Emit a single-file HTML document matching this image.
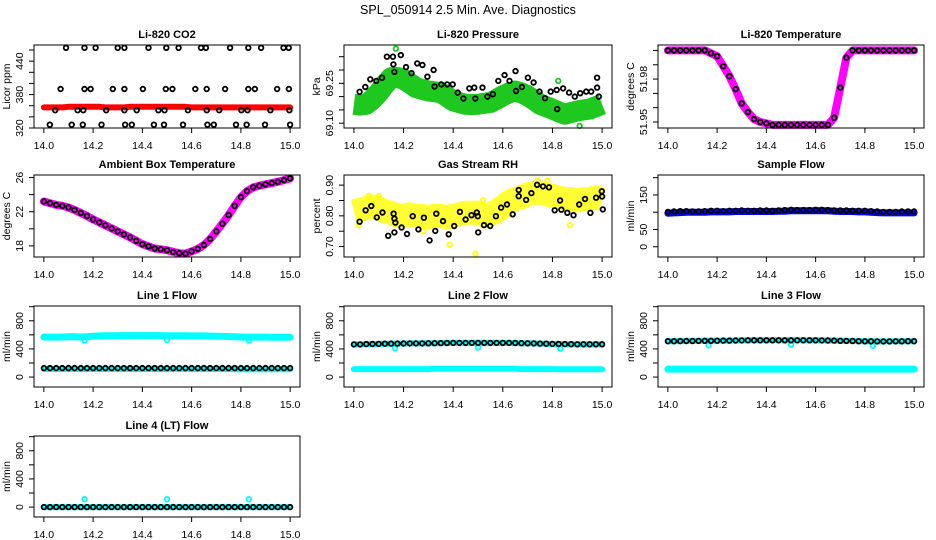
<!DOCTYPE html>
<html><head><meta charset="utf-8">
<style>
html,body{margin:0;padding:0;background:#fff;}
svg{display:block;font-family:"Liberation Sans",Arial,sans-serif;}
</style></head>
<body>
<svg id="chart" width="936" height="540" viewBox="0 0 936 540" xmlns="http://www.w3.org/2000/svg">
<rect width="936" height="540" fill="#fff"/>
<text x="468" y="14" text-anchor="middle" font-size="12.5">SPL_050914  2.5 Min. Ave. Diagnostics</text>
</svg>
<script>
// shared x grid (hours)
const xs = [14.000,14.025,14.050,14.075,14.100,14.125,14.150,14.175,14.200,14.225,14.250,14.275,14.300,14.325,14.350,14.375,14.400,14.425,14.450,14.475,14.500,14.525,14.550,14.575,14.600,14.625,14.650,14.675,14.700,14.725,14.750,14.775,14.800,14.825,14.850,14.875,14.900,14.925,14.950,14.975,15.000];
const xTicks = [14.0,14.2,14.4,14.6,14.8,15.0];
const xTickLabels = ["14.0","14.2","14.4","14.6","14.8","15.0"];

// CO2
const co2Red = [357,357,357,357,358,358,358,358,358,358,357,357,357,357,358,358,358,358,358,358,358,358,358,358,357,357,357,357,357,357,357,357,357,357,357,357,357,357,357,357,357];
const co2BlackX = [14.09,14.165,14.21,14.30,14.327,14.425,14.497,14.547,14.638,14.658,14.756,14.83,14.882,14.973,14.994,
 14.068,14.165,14.19,14.28,14.327,14.402,14.495,14.522,14.615,14.661,14.736,14.83,14.857,14.947,14.995,
 14.046,14.137,14.16,14.253,14.327,14.377,14.465,14.49,14.585,14.661,14.712,14.802,14.827,14.92,14.997,
 14.024,14.113,14.158,14.234,14.33,14.357,14.447,14.488,14.565,14.664,14.69,14.78,14.823,14.898,15.0];
const co2BlackY = [464,464,464,464,464,464,464,464,464,464,464,464,464,464,464,
 390,390,390,390,390,390,390,390,390,390,390,390,390,390,390,
 352,352,352,352,352,352,352,352,352,352,352,352,352,352,352,
 326,326,326,326,326,326,326,326,326,326,326,326,326,326,326];

// Pressure
const presGreen = [69.171,69.168,69.171,69.190,69.215,69.245,69.271,69.272,69.265,69.250,69.234,69.227,69.221,69.218,69.215,69.200,69.184,69.177,69.171,69.170,69.171,69.175,69.178,69.190,69.203,69.214,69.221,69.214,69.203,69.188,69.171,69.162,69.153,69.143,69.134,69.140,69.146,69.150,69.153,69.162,69.171];
const presBlackX = [14.023,14.046,14.066,14.090,14.113,14.133,14.157,14.159,14.163,14.189,14.210,14.232,14.255,14.276,14.296,14.321,14.325,14.352,14.376,14.398,14.418,14.441,14.465,14.485,14.489,14.518,14.538,14.560,14.582,14.607,14.627,14.651,14.653,14.677,14.701,14.724,14.748,14.770,14.793,14.817,14.819,14.843,14.867,14.890,14.912,14.936,14.956,14.980,14.980,14.987];
const presBlackY = [69.218,69.236,69.265,69.259,69.271,69.350,69.350,69.321,69.293,69.356,69.311,69.288,69.325,69.319,69.275,69.300,69.238,69.246,69.246,69.246,69.215,69.193,69.231,69.234,69.193,69.234,69.200,69.209,69.259,69.281,69.259,69.296,69.221,69.236,69.271,69.253,69.219,69.194,69.219,69.225,69.153,69.231,69.215,69.200,69.213,69.219,69.219,69.271,69.234,69.200];
const presOutX = [14.169,14.823,14.910];
const presOutY = [69.380,69.259,69.090];

// Li-820 temperature
const tempMag = [52.000,52.000,52.000,52.000,52.000,52.000,52.000,51.998,51.996,51.989,51.982,51.973,51.963,51.957,51.952,51.950,51.949,51.948,51.948,51.948,51.948,51.948,51.948,51.948,51.948,51.948,51.948,51.953,51.974,51.995,52.000,52.000,52.000,52.000,52.000,52.000,52.000,52.000,52.000,52.000,52.000];

// Ambient box temperature
const ambMag = [23.2,23.0,22.8,22.7,22.5,22.2,21.85,21.5,21.1,20.75,20.4,20.05,19.7,19.35,19.0,18.6,18.2,17.95,17.7,17.6,17.5,17.3,17.15,17.1,17.35,17.65,18.1,18.8,19.7,20.6,21.6,22.7,23.7,24.4,24.85,25.05,25.2,25.35,25.5,25.7,25.9];

// Gas stream RH
const rhYellow = [0.815,0.82,0.825,0.83,0.825,0.815,0.81,0.80,0.80,0.805,0.80,0.80,0.795,0.80,0.80,0.795,0.80,0.805,0.81,0.81,0.81,0.80,0.805,0.815,0.83,0.845,0.855,0.86,0.87,0.875,0.875,0.87,0.865,0.86,0.855,0.855,0.85,0.855,0.855,0.86,0.855];
const rhBlackX = [14.023,14.047,14.070,14.092,14.115,14.138,14.160,14.163,14.167,14.163,14.192,14.214,14.237,14.260,14.282,14.305,14.328,14.332,14.359,14.382,14.404,14.427,14.450,14.474,14.495,14.499,14.501,14.524,14.549,14.572,14.593,14.617,14.640,14.664,14.664,14.694,14.715,14.738,14.762,14.786,14.809,14.831,14.836,14.860,14.885,14.908,14.931,14.953,14.976,14.999,15.000,15.003];
const rhBlackY = [0.781,0.818,0.832,0.795,0.811,0.735,0.807,0.791,0.778,0.746,0.762,0.741,0.799,0.756,0.794,0.720,0.751,0.807,0.783,0.740,0.767,0.813,0.788,0.802,0.811,0.799,0.746,0.770,0.767,0.799,0.827,0.837,0.805,0.884,0.864,0.852,0.874,0.901,0.896,0.893,0.818,0.850,0.820,0.810,0.802,0.837,0.855,0.810,0.859,0.880,0.863,0.821];
const rhOutX = [14.49,14.386,14.06,14.10,14.74,14.78,14.02,14.28,14.52,14.87];
const rhOutY = [0.677,0.706,0.865,0.865,0.915,0.915,0.77,0.75,0.85,0.77];

// Sample flow
const sampleBlue = [97,98,99,100,100,100,100,101,101,101,101,102,102,102,102,102,102,102,103,103,104,104,104,104,104,104,104,103,102,102,102,101,101,100,99,98,98,98,98,98,98];
const sampleBlack = [101,102,103,103,102,102,103,104,104,103,104,104,105,104,104,105,105,104,105,106,107,106,106,106,107,107,106,105,105,105,104,104,104,103,102,101,101,101,102,102,102];

// Line flows
const line1Upper = [570,568,568,570,572,572,570,572,580,585,588,588,590,590,590,590,590,590,590,590,588,588,588,586,585,585,585,582,580,578,575,572,570,568,568,568,568,566,566,566,568];
const line1Lower = [115,115,115,115,115,115,115,115,115,115,115,115,115,115,115,115,115,115,115,115,115,115,115,115,115,115,115,115,115,115,115,110,110,110,110,110,110,110,110,110,110];
const line1Black = [127,127,127,127,127,127,127,127,127,127,127,127,127,127,127,127,127,127,127,127,127,127,127,127,127,127,127,127,127,127,127,127,127,127,127,127,127,127,127,127,127];
const line2Black = [465,465,468,470,472,474,476,476,477,478,478,479,480,482,483,484,485,485,485,485,486,486,486,486,486,485,484,482,480,478,476,474,472,470,468,467,466,466,466,466,466];
const line2Lower = [113,113,113,113,113,113,113,113,113,113,113,113,113,118,118,118,118,118,118,118,118,118,118,118,118,118,118,113,113,113,113,113,113,110,110,110,110,110,110,110,110];
const line3Black = [510,510,511,512,513,514,515,516,517,518,519,520,521,522,522,523,523,523,523,523,523,523,523,523,522,521,520,518,516,514,512,510,509,508,507,507,507,508,509,510,510];
const line3Lower = [113,113,113,113,113,113,113,113,113,113,113,113,113,113,113,113,113,113,113,113,113,113,113,113,113,113,113,113,113,113,113,113,113,113,113,113,113,113,113,113,113];
const line4Black = [0,0,0,0,0,0,0,0,0,0,0,0,0,0,0,0,0,0,0,0,0,0,0,0,0,0,0,0,0,0,0,0,0,0,0,0,0,0,0,0,0];
const dipX = [14.165,14.5,14.832];
const line1DipY = [520,525,520];
const line2DipY = [410,420,405];
const line3DipY = [450,460,445];
const line4DipY = [112,112,112];

const svg = document.getElementById('chart');
const NS = 'http://www.w3.org/2000/svg';
const cols = [[34,300],[344,612],[658,924]];
const rows = [[45,128],[175,257],[306,387],[436,517]];

function mk(tag, attrs, parent){
  const e = document.createElementNS(NS, tag);
  for (const k in attrs) e.setAttribute(k, attrs[k]);
  (parent||svg).appendChild(e);
  return e;
}

function panel(cfg){
  const [L,R] = cols[cfg.col], [T,B] = rows[cfg.row];
  const g = mk('g', {});
  
  
  const sx = v => L + (v - 13.96) / 1.08 * (R - L);
  const sy = v => B - (v - cfg.ylim[0]) / (cfg.ylim[1] - cfg.ylim[0]) * (B - T);
  cfg.series.forEach(s => {
    if (s.type === 'band') {
      const d = s.y.map((v,i) => (i ? 'L' : 'M') + sx(s.x[i]).toFixed(1) + ' ' + sy(v).toFixed(1)).join(' ');
      const p = mk('path', {d:d, fill:'none', stroke:s.color, 'stroke-width':s.w, 'stroke-linejoin':'round', 'stroke-linecap': s.w <= 9 ? 'round' : 'butt', opacity:s.op||1}, g);
      
      
    } else {
      const sg = mk('g', {}, g);
      
      
      s.y.forEach((v,i) => {
        const c = mk('circle', {cx:sx(s.x[i]).toFixed(1), cy:sy(v).toFixed(1), r:2.3, fill:'none', stroke:s.color, 'stroke-width':1.8}, sg);
        
        
      });
    }
  });
  const bx = mk('rect', {x:L, y:T, width:R-L, height:B-T, fill:'none', stroke:'#000', 'stroke-width':1}, g);
  
  
  const xa = mk('g', {}, g);
  
  
  mk('line', {x1:sx(14), x2:sx(15), y1:B, y2:B, stroke:'#000'}, xa);
  xTicks.forEach((v,i) => {
    mk('line', {x1:sx(v), x2:sx(v), y1:B, y2:B+5, stroke:'#000'}, xa);
    const t = mk('text', {x:sx(v), y:B+21, 'text-anchor':'middle', 'font-size':10.5}, xa);
    t.textContent = xTickLabels[i];
    
    
  });
  const ya = mk('g', {}, g);
  
  
  const tk = cfg.ticks;
  mk('line', {x1:L, x2:L, y1:sy(tk[0]), y2:sy(tk[tk.length-1]), stroke:'#000'}, ya);
  tk.forEach((v,i) => {
    const y = sy(v);
    mk('line', {x1:L-5, x2:L, y1:y, y2:y, stroke:'#000'}, ya);
    if (cfg.labels[i]) {
      const t = mk('text', {x:L-11, y:y, 'text-anchor':'middle', 'font-size':10.5, transform:'rotate(-90 ' + (L-11) + ' ' + y + ')'}, ya);
      t.textContent = cfg.labels[i];
      
      
    }
  });
  const yt = mk('text', {x:L-24, y:(T+B)/2, 'text-anchor':'middle', 'font-size':10.5, transform:'rotate(-90 ' + (L-24) + ' ' + ((T+B)/2) + ')'}, g);
  yt.textContent = cfg.ylab;
  
  
  const tt = mk('text', {x:(L+R)/2, y:T-7, 'text-anchor':'middle', 'font-size':11, 'font-weight':'bold'}, g);
  tt.textContent = cfg.title;
  
  
}

const flowTicks = [0,200,400,600,800,1000];
const flowLabels = ['0','','400','','800',''];
const flowLim = [-141,1010];

panel({name:'co2-panel', col:0,row:0,title:'Li-820 CO2',ylab:'Licor ppm',ylim:[320,469],
  ticks:[320,340,360,380,400,420,440,460],labels:['320','','','380','','','440',''],
  series:[{type:'band',name:'co2-red-band',x:xs,y:co2Red,color:'#ff0000',w:6},
          {type:'pts',name:'co2-black-points',x:co2BlackX,y:co2BlackY,color:'#000'}]});
panel({name:'pressure-panel', col:1,row:0,title:'Li-820 Pressure',ylab:'kPa',ylim:[69.082,69.394],
  ticks:[69.10,69.15,69.20,69.25,69.30,69.35],labels:['69.10','','','69.25','',''],
  series:[{type:'band',name:'pressure-green-band',x:xs,y:presGreen,color:'#1ec81e',w:21},
          {type:'pts',name:'pressure-green-outliers',x:presOutX,y:presOutY,color:'#1ec81e'},
          {type:'pts',name:'pressure-black-points',x:presBlackX,y:presBlackY,color:'#000'}]});
panel({name:'li820-temp-panel', col:2,row:0,title:'Li-820 Temperature',ylab:'degrees C',ylim:[51.9458,52.0038],
  ticks:[51.95,51.96,51.97,51.98,51.99,52.00],labels:['51.95','','','51.98','',''],
  series:[{type:'band',name:'temp-magenta-band',x:xs,y:tempMag,color:'#ff00ff',w:8},
          {type:'pts',name:'temp-black-points',x:xs,y:tempMag,color:'#000'}]});
panel({name:'ambient-panel', col:0,row:1,title:'Ambient Box Temperature',ylab:'degrees C',ylim:[16.7,26.3],
  ticks:[18,20,22,24,26],labels:['18','','22','','26'],
  series:[{type:'band',name:'ambient-magenta-band',x:xs,y:ambMag,color:'#ff00ff',w:8},
          {type:'pts',name:'ambient-black-points',x:xs,y:ambMag,color:'#000'}]});
panel({name:'rh-panel', col:1,row:1,title:'Gas Stream RH',ylab:'percent',ylim:[0.666,0.933],
  ticks:[0.70,0.75,0.80,0.85,0.90],labels:['0.70','','0.80','','0.90'],
  series:[{type:'band',name:'rh-yellow-band',x:xs,y:rhYellow,color:'#ffff00',w:24,op:0.8},
          {type:'pts',name:'rh-yellow-outliers',x:rhOutX,y:rhOutY,color:'#ffff00'},
          {type:'pts',name:'rh-black-points',x:rhBlackX,y:rhBlackY,color:'#000'}]});
panel({name:'sample-flow-panel', col:2,row:1,title:'Sample Flow',ylab:'ml/min',ylim:[-29.6,207.7],
  ticks:[0,50,100,150,200],labels:['0','50','','150',''],
  series:[{type:'band',name:'sample-blue-band',x:xs,y:sampleBlue,color:'#0000ff',w:7},
          {type:'pts',name:'sample-black-points',x:xs,y:sampleBlack,color:'#000'}]});
panel({name:'line1-panel', col:0,row:2,title:'Line 1 Flow',ylab:'ml/min',ylim:flowLim,ticks:flowTicks,labels:flowLabels,
  series:[{type:'band',name:'line1-cyan-upper',x:xs,y:line1Upper,color:'#00ffff',w:7},
          {type:'band',name:'line1-cyan-lower',x:xs,y:line1Lower,color:'#00ffff',w:6},
          {type:'pts',name:'line1-cyan-dips',x:dipX,y:line1DipY,color:'#00ffff'},
          {type:'pts',name:'line1-black-points',x:xs,y:line1Black,color:'#000'}]});
panel({name:'line2-panel', col:1,row:2,title:'Line 2 Flow',ylab:'ml/min',ylim:flowLim,ticks:flowTicks,labels:flowLabels,
  series:[{type:'band',name:'line2-cyan-upper',x:xs,y:line2Black,color:'#00ffff',w:6},
          {type:'band',name:'line2-cyan-lower',x:xs,y:line2Lower,color:'#00ffff',w:6},
          {type:'pts',name:'line2-cyan-dips',x:dipX,y:line2DipY,color:'#00ffff'},
          {type:'pts',name:'line2-black-points',x:xs,y:line2Black,color:'#000'}]});
panel({name:'line3-panel', col:2,row:2,title:'Line 3 Flow',ylab:'ml/min',ylim:flowLim,ticks:flowTicks,labels:flowLabels,
  series:[{type:'band',name:'line3-cyan-upper',x:xs,y:line3Black,color:'#00ffff',w:6},
          {type:'band',name:'line3-cyan-lower',x:xs,y:line3Lower,color:'#00ffff',w:7},
          {type:'pts',name:'line3-cyan-dips',x:dipX,y:line3DipY,color:'#00ffff'},
          {type:'pts',name:'line3-black-points',x:xs,y:line3Black,color:'#000'}]});
panel({name:'line4-panel', col:0,row:3,title:'Line 4 (LT) Flow',ylab:'ml/min',ylim:flowLim,ticks:flowTicks,labels:flowLabels,
  series:[{type:'band',name:'line4-cyan-band',x:xs,y:line4Black,color:'#00ffff',w:6},
          {type:'pts',name:'line4-cyan-outliers',x:dipX,y:line4DipY,color:'#00ffff'},
          {type:'pts',name:'line4-black-points',x:xs,y:line4Black,color:'#000'}]});
</script>
</body></html>
